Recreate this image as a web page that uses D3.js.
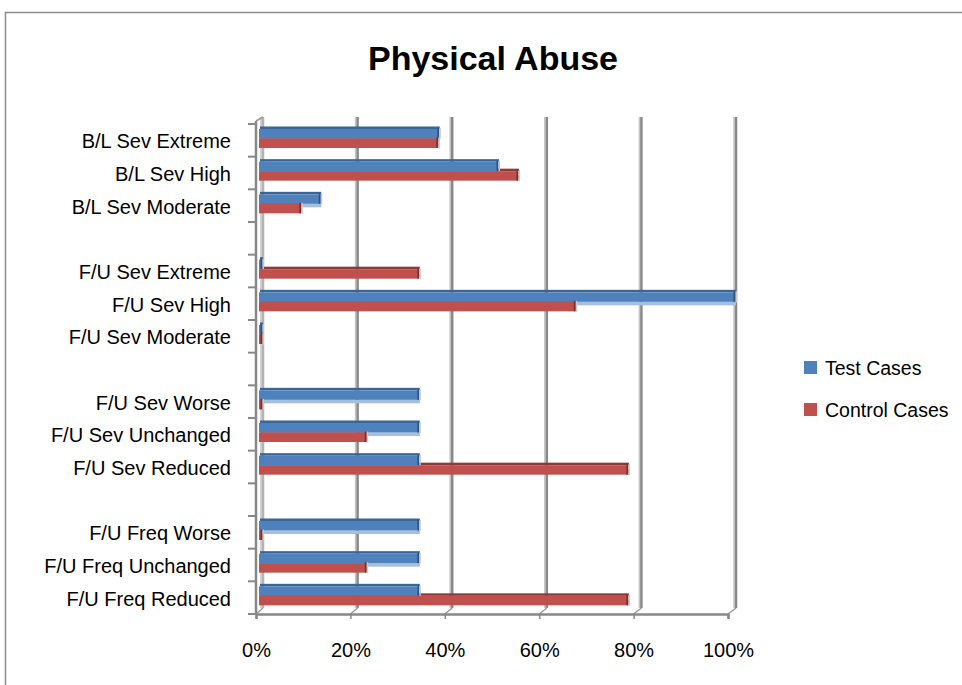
<!DOCTYPE html>
<html>
<head>
<meta charset="utf-8">
<script src="https://cdn.jsdelivr.net/npm/d3@7"></script>
<style>
  body { margin: 0; background: #fff; }
  text { font-family: "Liberation Sans", Arial, sans-serif; fill: #000; }
</style>
</head>
<body>
<script>
// categories top to bottom, "" = empty spacer row
const categories = [
  "B/L Sev Extreme", "B/L Sev High", "B/L Sev Moderate", "",
  "F/U Sev Extreme", "F/U Sev High", "F/U Sev Moderate", "",
  "F/U Sev Worse", "F/U Sev Unchanged", "F/U Sev Reduced", "",
  "F/U Freq Worse", "F/U Freq Unchanged", "F/U Freq Reduced"
];
// percent values, null = no bar
const testCases    = [37.5, 50, 12.5, null, 0, 100, 0, null, 33.3, 33.3, 33.3, null, 33.3, 33.3, 33.3];
const controlCases = [37.3, 54.2, 8.4, null, 33.3, 66.3, 0, null, 0, 22.2, 77.4, null, 0, 22.2, 77.4];
const seriesNames = ["Test Cases", "Control Cases"];
const xTicks = [0, 20, 40, 60, 80, 100];

const W = 962, H = 685;
const svg = d3.select("body").append("svg")
    .attr("width", W)
    .attr("height", H);

// chart frame (only top/left visible in the picture)
svg.append("path")
    .attr("d", "M5.5," + H + " L5.5,12.5 L" + W + ",12.5")
    .attr("fill", "none")
    .attr("stroke", "#8c8c8c")
    .attr("stroke-width", 1.5);

svg.append("text")
    .attr("x", 493)
    .attr("y", 70)
    .attr("text-anchor", "middle")
    .style("font-size", "34px")
    .style("font-weight", "bold")
    .text("Physical Abuse");

// scales: front plane (axis), back wall (gridlines), bars in between
const xFront = d3.scaleLinear().domain([0, 100]).range([256, 728]);
const xBack = d3.scaleLinear().domain([0, 100]).range([263, 736]);
const xBar = d3.scaleLinear().domain([0, 100]).range([261, 735]);
const y = d3.scaleBand().domain(d3.range(categories.length)).range([124, 614]).padding(0);
const bw = y.bandwidth();
const backTop = 117, backBottom = 608;

const g = svg.append("g");

// back wall gridlines
g.selectAll(".grid-light")
    .data(xTicks)
    .enter().append("line")
    .attr("x1", d => xBack(d) - 2).attr("x2", d => xBack(d) - 2)
    .attr("y1", backTop).attr("y2", backBottom)
    .attr("stroke", "#c4c4c4")
    .attr("stroke-width", 1.5);
g.selectAll(".grid")
    .data(xTicks)
    .enter().append("line")
    .attr("x1", d => xBack(d)).attr("x2", d => xBack(d))
    .attr("y1", backTop).attr("y2", backBottom)
    .attr("stroke", (d, i) => i == 0 ? "#b4b4b4" : "#888")
    .attr("stroke-width", 2.5);

// floor joints front -> back
g.selectAll(".joint")
    .data(xTicks)
    .enter().append("line")
    .attr("x1", d => xFront(d)).attr("y1", 614)
    .attr("x2", d => xBack(d)).attr("y2", backBottom)
    .attr("stroke", "#999")
    .attr("stroke-width", 1.5);

// left wall front edge
g.append("line")
    .attr("x1", 256).attr("x2", 256)
    .attr("y1", 121).attr("y2", 615)
    .attr("stroke", "#888")
    .attr("stroke-width", 2.5);
g.append("line")
    .attr("x1", 256).attr("y1", 121)
    .attr("x2", 263).attr("y2", backTop)
    .attr("stroke", "#999")
    .attr("stroke-width", 1.5);

// category ticks on the band boundaries
const boundaries = d3.range(categories.length).map(i => y(i)).concat([y(categories.length - 1) + bw]);
g.selectAll(".ytick")
    .data(boundaries)
    .enter().append("line")
    .attr("x1", 248).attr("x2", 256)
    .attr("y1", d => d).attr("y2", d => d)
    .attr("stroke", "#888")
    .attr("stroke-width", 2);

g.selectAll(".ylabel")
    .data(categories)
    .enter().append("text")
    .attr("x", 231)
    .attr("y", (d, i) => y(i) + bw / 2 + 1)
    .attr("dy", "0.35em")
    .attr("text-anchor", "end")
    .style("font-size", "20px")
    .text(d => d);

// bottom axis
const xAxis = g.append("g")
    .attr("transform", "translate(0,614)")
    .call(d3.axisBottom(xFront).tickValues(xTicks).tickSize(5).tickPadding(24).tickFormat(d => d + "%"));
xAxis.select(".domain").attr("stroke", "#888").attr("stroke-width", 2.5);
xAxis.selectAll(".tick line").attr("stroke", "#888").attr("stroke-width", 1.5);
xAxis.selectAll(".tick text").style("font-size", "20px").attr("font-family", null);

// bars
const colors = {
  blue: { front: "#4F81BD", top: "#3B6597", bottom: "#A5BFDE", end: "#2F5482" },
  red:  { front: "#C0504D", top: "#8E3A38", bottom: "#D6827F", end: "#7E2F2D" }
};
const rows = categories.map((c, i) => ({ i: i, t: testCases[i], c: controlCases[i] }))
    .filter(d => d.t != null);
const barW = v => Math.max(xBar(v) - 259, 3);
const x0 = 259;

// hidden faces first (visible only where the neighbour bar is shorter)
g.selectAll(".blue-bottom").data(rows).enter().append("rect")
    .attr("x", x0 + 1).attr("y", d => y(d.i) + 14.5)
    .attr("width", d => barW(d.t)).attr("height", 3.5)
    .attr("fill", colors.blue.bottom);
g.selectAll(".red-top").data(rows).enter().append("rect")
    .attr("x", x0 + 1).attr("y", d => y(d.i) + 12)
    .attr("width", d => barW(d.c)).attr("height", 2.5)
    .attr("fill", colors.red.top);

function drawBar(cls, key, col, off) {
  const sel = g.selectAll("." + cls).data(rows).enter().append("g");
  if (off == 0) {
    sel.append("rect")
        .attr("x", x0 + 1).attr("y", d => y(d.i) + 2.5)
        .attr("width", d => barW(d[key])).attr("height", 2.5)
        .attr("fill", col.top);
  } else {
    sel.append("rect")
        .attr("x", x0 + 1).attr("y", d => y(d.i) + off + 9.5)
        .attr("width", d => barW(d[key])).attr("height", 3.5)
        .attr("fill", col.bottom);
  }
  sel.append("rect")
      .attr("x", x0).attr("y", d => y(d.i) + 5 + off)
      .attr("width", d => barW(d[key])).attr("height", 9.5)
      .attr("fill", col.front);
  // end face
  sel.append("rect")
      .attr("x", d => x0 + barW(d[key]) - 1.5).attr("y", d => y(d.i) + 4 + off)
      .attr("width", 2).attr("height", 10.5)
      .attr("fill", col.end);
  sel.append("rect")
      .attr("x", d => x0 + barW(d[key]) + 0.5).attr("y", d => y(d.i) + 4 + off)
      .attr("width", 1.5).attr("height", 11)
      .attr("fill", "#c8c8c8");
}
drawBar("blue", "t", colors.blue, 0);
drawBar("red", "c", colors.red, 9.5);

// legend
const legend = svg.append("g");
const legendColors = [colors.blue.front, colors.red.front];
legend.selectAll("rect")
    .data(seriesNames)
    .enter().append("rect")
    .attr("x", 804)
    .attr("y", (d, i) => 361 + i * 42)
    .attr("width", 13).attr("height", 13)
    .attr("fill", (d, i) => legendColors[i]);
legend.selectAll("text")
    .data(seriesNames)
    .enter().append("text")
    .attr("x", 825)
    .attr("y", (d, i) => 375 + i * 42)
    .style("font-size", "19.5px")
    .text(d => d);
</script>
</body>
</html>
